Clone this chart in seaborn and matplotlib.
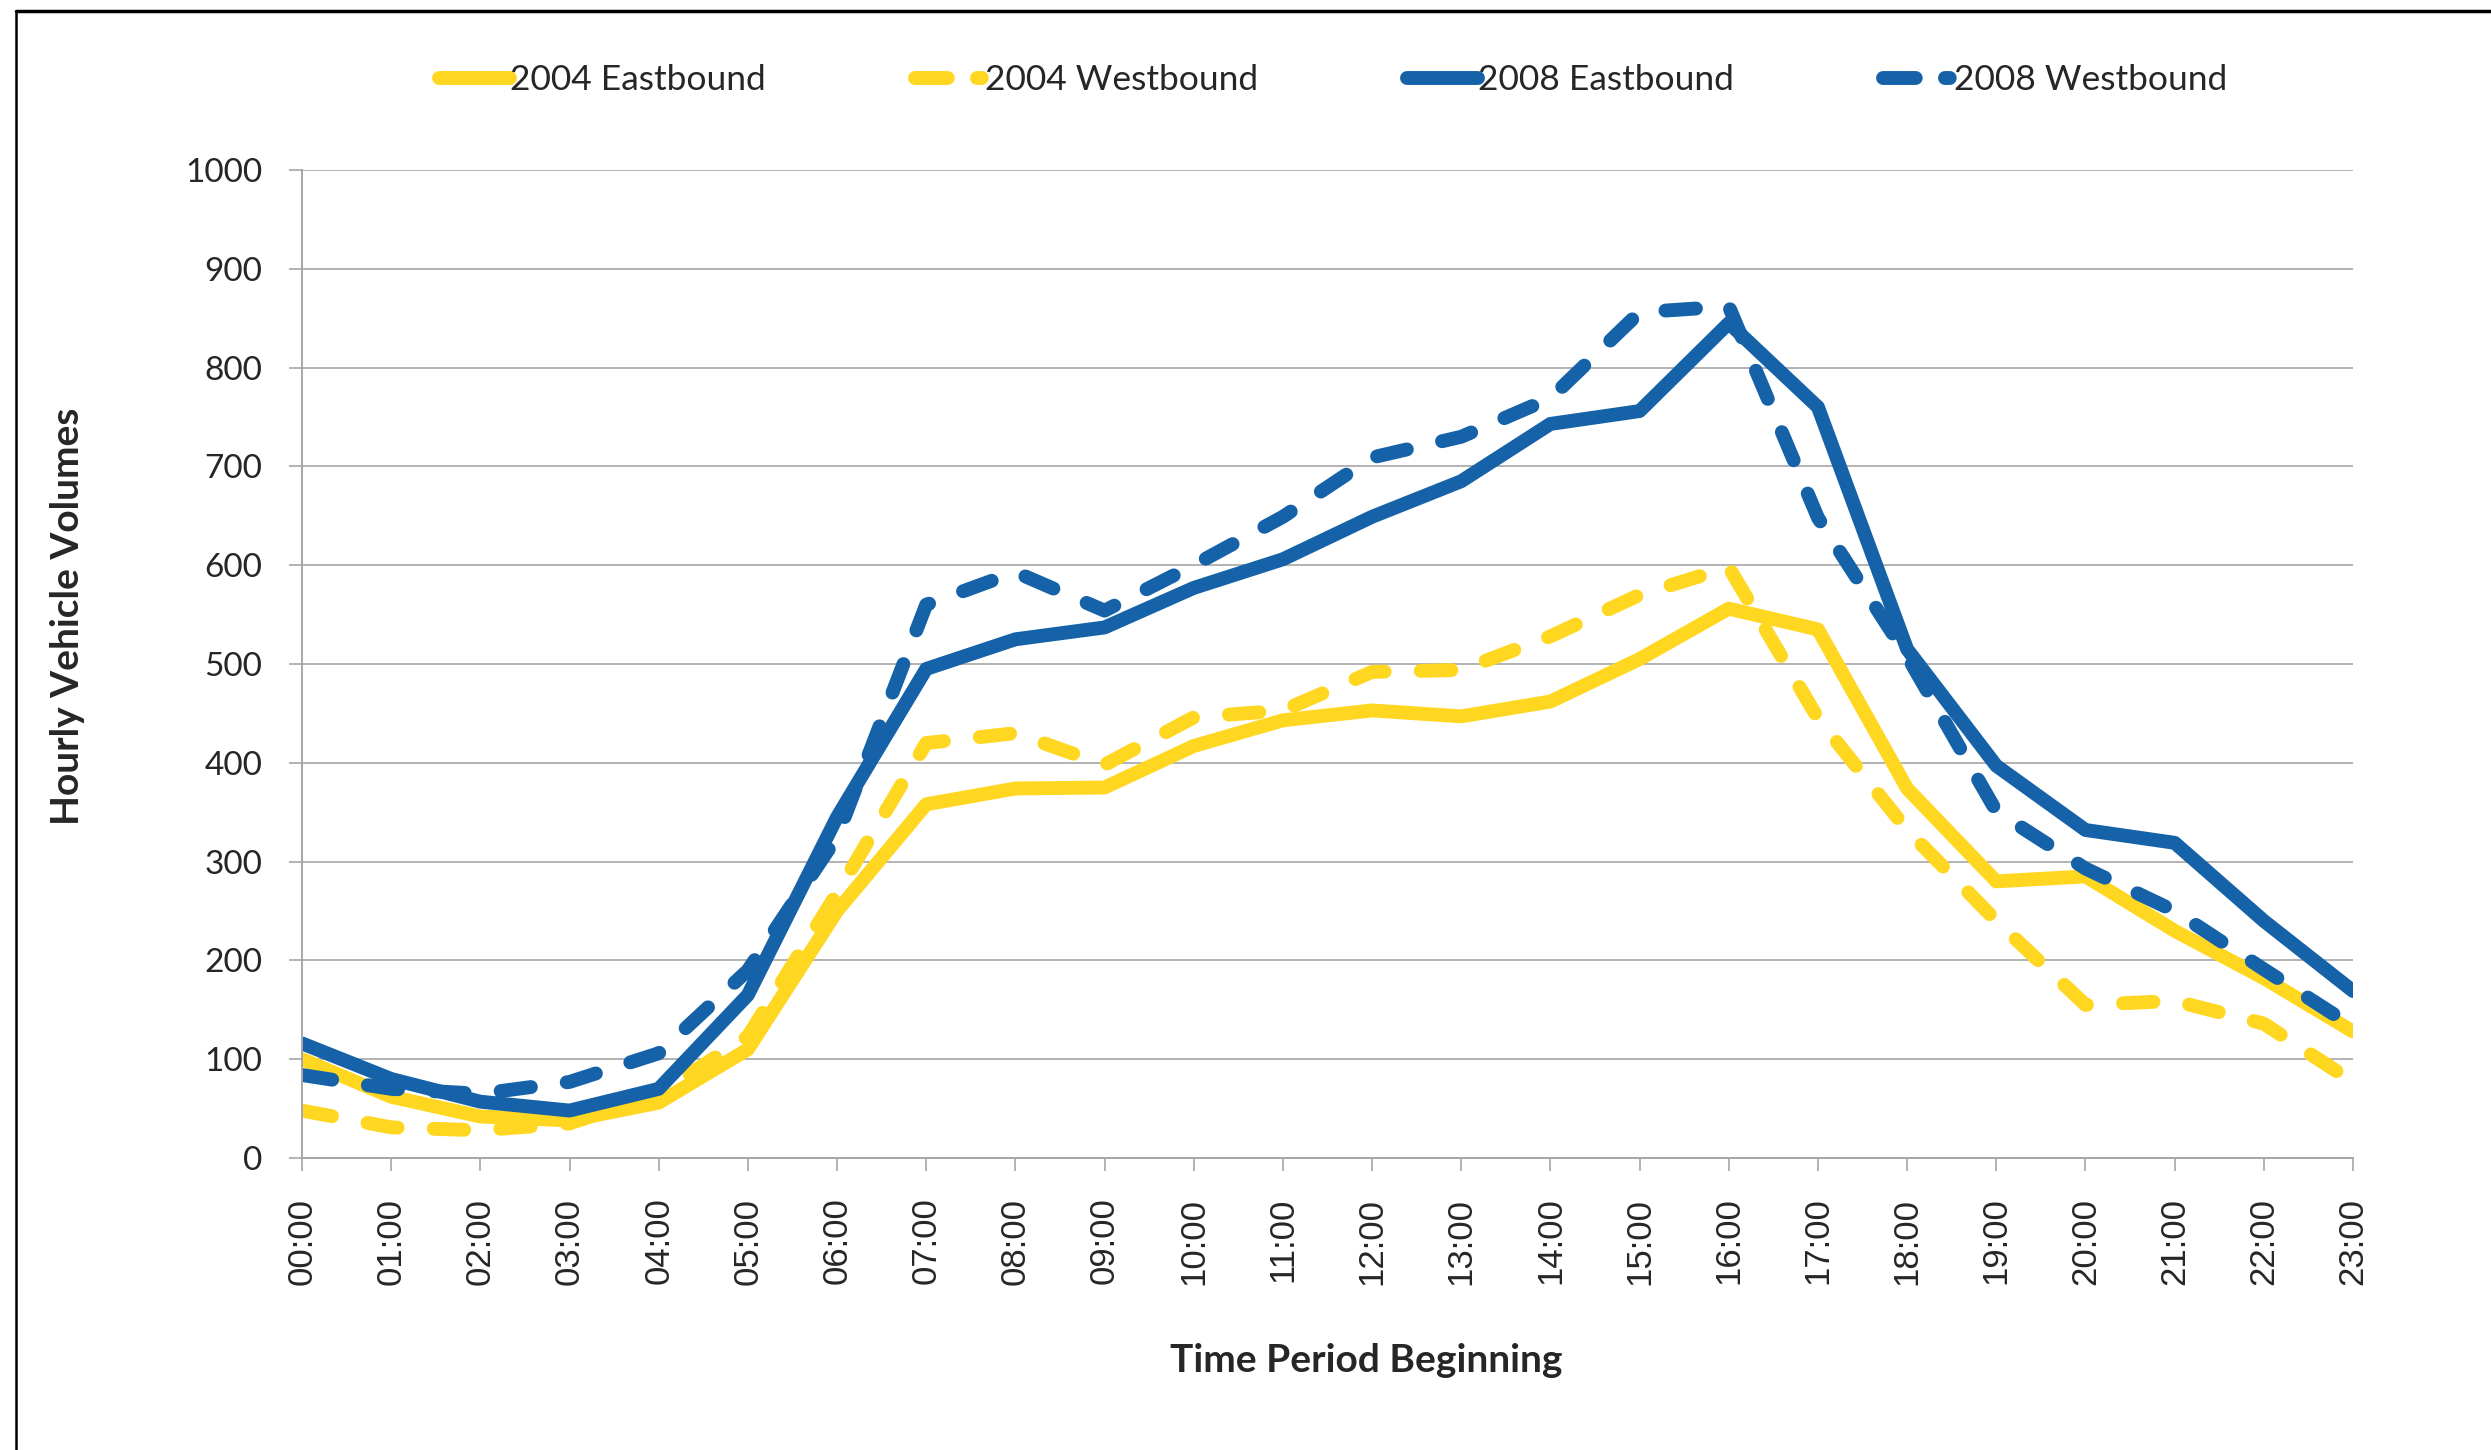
import matplotlib
matplotlib.use("Agg")
import matplotlib.pyplot as plt
from matplotlib.lines import Line2D
import seaborn as sns
import pandas as pd

hours = ["00:00", "01:00", "02:00", "03:00", "04:00", "05:00", "06:00", "07:00",
         "08:00", "09:00", "10:00", "11:00", "12:00", "13:00", "14:00", "15:00",
         "16:00", "17:00", "18:00", "19:00", "20:00", "21:00", "22:00", "23:00"]

eb_2004 = [100, 62, 42, 38, 56, 110, 250, 358, 374, 375, 417, 443, 453, 447, 462, 505,
           556, 535, 374, 280, 285, 230, 182, 128]
wb_2004 = [48, 31, 28, 35, 65, 123, 268, 420, 430, 398, 446, 453, 492, 494, 528, 570,
           598, 445, 332, 240, 155, 159, 136, 77]
eb_2008 = [116, 80, 57, 48, 70, 165, 345, 495, 525, 537, 577, 606, 649, 685, 743, 756,
           845, 760, 515, 397, 332, 319, 240, 169]
wb_2008 = [84, 70, 65, 77, 106, 190, 325, 560, 593, 554, 600, 649, 709, 730, 769, 856,
           862, 648, 508, 351, 293, 250, 191, 133]

series_names = ["2004 Eastbound", "2004 Westbound", "2008 Eastbound", "2008 Westbound"]
series_values = [eb_2004, wb_2004, eb_2008, wb_2008]
series_colors = ["#FFD620", "#FFD620", "#1562A8", "#1562A8"]
series_dashed = [False, True, False, True]

sns.set_theme(style="white")
plt.rcParams["font.family"] = ["Lato", "DejaVu Sans"]

fig = plt.figure(figsize=(24.91, 14.5), dpi=100)
ax = fig.add_axes([302 / 2491, 1 - 1158 / 1450, (2353 - 302) / 2491, (1158 - 170) / 1450])

xpos = list(range(len(hours)))
handles = []
for name, vals, col, dashed in zip(series_names, series_values, series_colors, series_dashed):
    df = pd.DataFrame({"x": xpos, "y": vals})
    sns.lineplot(data=df, x="x", y="y", ax=ax, color=col, linewidth=10,
                 solid_capstyle="round", dash_capstyle="round",
                 solid_joinstyle="round", dash_joinstyle="round", legend=False)
    ln = ax.lines[-1]
    if dashed:
        ln.set_dashes((2.2, 2.6))
    h = Line2D([0], [0], color=col, linewidth=10, solid_capstyle="round",
               dash_capstyle="round")
    if dashed:
        h.set_dashes((2.36, 2.1, 0.35, 10))
    handles.append(h)

ax.set_xlim(0, 23)
ax.set_ylim(0, 1000)
ax.set_yticks(range(0, 1001, 100))
ax.set_xticks(xpos)
ax.set_xticklabels(hours, rotation=90, family=["Liberation Sans", "DejaVu Sans"])
ax.grid(axis="y", color="#A6A6A6", linewidth=1.2)
ax.grid(axis="x", visible=False)
ax.set_axisbelow(True)
for s in ["top", "right"]:
    ax.spines[s].set_visible(False)
for s in ["left", "bottom"]:
    ax.spines[s].set_color("#A6A6A6")
    ax.spines[s].set_linewidth(1.4)
ax.tick_params(axis="y", which="both", direction="out", length=9.5, width=1.2,
               color="#A6A6A6", labelsize=24, pad=19, left=True)
ax.tick_params(axis="x", which="both", direction="out", length=9.5, width=1.2,
               color="#A6A6A6", labelsize=25, pad=19, bottom=True)
ax.set_xlabel("")
ax.set_ylabel("")

fig.text(1366 / 2491, 1 - 1361 / 1450, "Time Period Beginning", ha="center", va="center",
         fontsize=28, fontweight="bold")
fig.text(68 / 2491, 1 - 616 / 1450, "Hourly Vehicle Volumes", ha="center", va="center",
         rotation=90, fontsize=28, fontweight="bold")

fig.legend(handles, series_names, loc="center", bbox_to_anchor=(1333 / 2491, 1 - 80 / 1450),
           ncol=4, frameon=False, fontsize=25.5, handlelength=2.0, handletextpad=0.0,
           columnspacing=4.2)

fig.add_artist(Line2D([16 / 2491, 1.0], [1 - 11 / 1450, 1 - 11 / 1450], color="black",
                      linewidth=2.5, transform=fig.transFigure))
fig.add_artist(Line2D([16 / 2491, 16 / 2491], [0, 1 - 11 / 1450], color="black",
                      linewidth=1.8, transform=fig.transFigure))

fig.savefig("out.png", dpi=100)
